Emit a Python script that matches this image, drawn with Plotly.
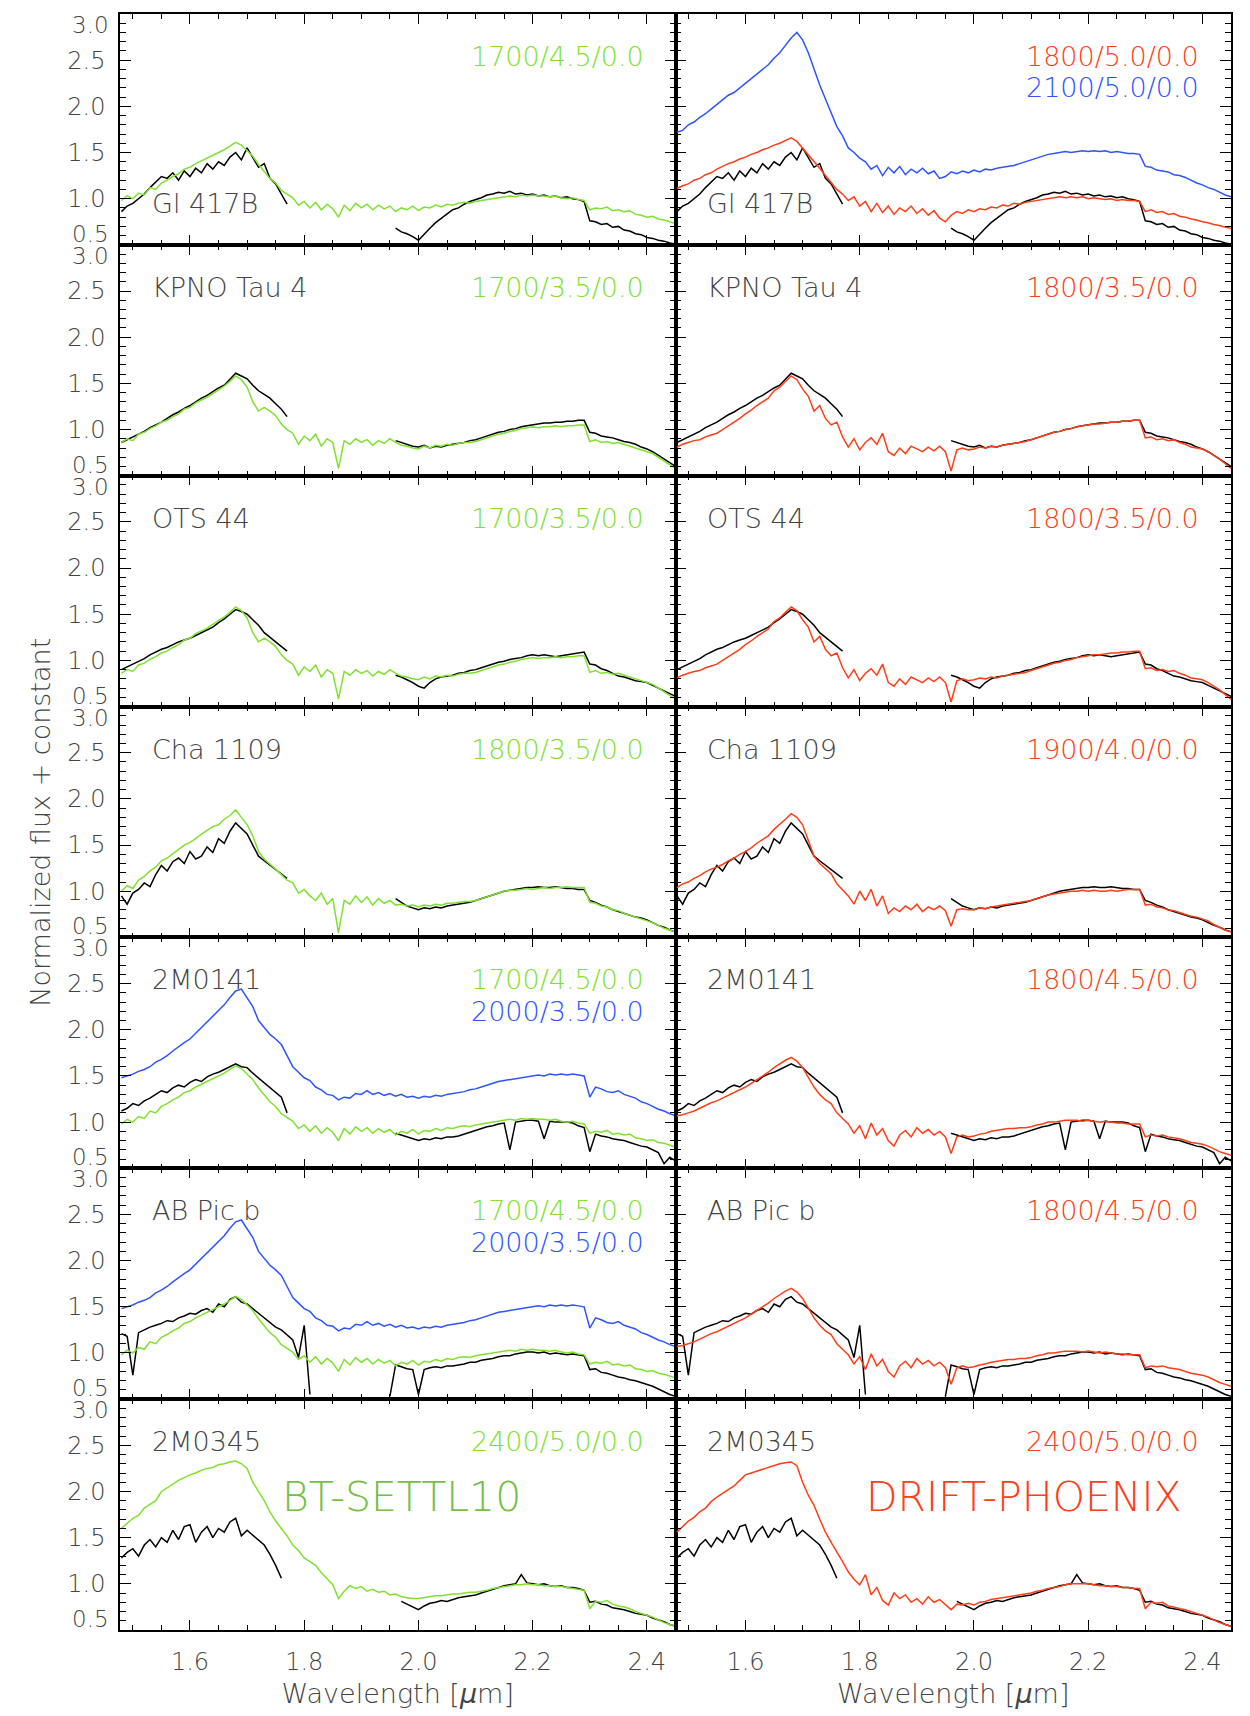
import plotly.graph_objects as go
from plotly.subplots import make_subplots

N = None
# wavelength sampling: 1.48 ... 2.45 micron, step 0.01
WL_START, WL_STEP = 1.48, 0.01

# ---------------- observed spectra (black) ----------------
B_GL417 = [0.86, 0.92, 0.95, 1.00, 1.05, 1.12, 1.18, 1.24, 1.22, 1.28,
           1.20, 1.30, 1.24, 1.33, 1.28, 1.38, 1.32, 1.40, 1.36, 1.45,
           1.50, 1.42, 1.55, 1.44, 1.34, 1.38, 1.22, 1.16, 1.05, 0.94,
           N, N, N, N, N, N, N, N, N, N,
           N, N, N, N, N, N, N, N, 0.68, 0.64,
           0.62, 0.59, 0.55, 0.62, 0.68, 0.74, 0.79, 0.84, 0.88, 0.90,
           0.94, 0.97, 0.99, 1.01, 1.04, 1.05, 1.07, 1.06, 1.08, 1.05,
           1.06, 1.04, 1.05, 1.03, 1.04, 1.02, 1.03, 1.01, 1.02, 1.00,
           0.99, 0.97, 0.76, 0.75, 0.72, 0.73, 0.69, 0.70, 0.66, 0.65,
           0.62, 0.61, 0.58, 0.57, 0.55, 0.54, 0.52, 0.51]
B_KPNO = [0.86, 0.89, 0.92, 0.95, 0.98, 1.02, 1.05, 1.08, 1.12, 1.16,
          1.19, 1.23, 1.26, 1.30, 1.34, 1.37, 1.41, 1.45, 1.48, 1.54,
          1.61, 1.58, 1.55, 1.48, 1.42, 1.38, 1.34, 1.28, 1.22, 1.14,
          N, N, N, N, N, N, N, N, N, N,
          N, N, N, N, N, N, N, N, 0.88, 0.86,
          0.84, 0.82, 0.81, 0.83, 0.80, 0.82, 0.81, 0.83, 0.84, 0.85,
          0.86, 0.88, 0.89, 0.91, 0.93, 0.95, 0.97, 0.98, 1.00, 1.01,
          1.03, 1.04, 1.05, 1.06, 1.07, 1.07, 1.08, 1.08, 1.09, 1.09,
          1.10, 1.10, 0.97, 0.96, 0.93, 0.92, 0.91, 0.89, 0.87, 0.86,
          0.84, 0.81, 0.79, 0.76, 0.72, 0.68, 0.64, 0.60]
B_OTS = [0.90, 0.93, 0.96, 0.99, 1.02, 1.06, 1.09, 1.12, 1.14, 1.17,
         1.20, 1.22, 1.24, 1.27, 1.30, 1.33, 1.36, 1.41, 1.45, 1.50,
         1.55, 1.53, 1.50, 1.44, 1.38, 1.30, 1.25, 1.20, 1.16, 1.10,
         N, N, N, N, N, N, N, N, N, N,
         N, N, N, N, N, N, N, N, 0.84, 0.82,
         0.79, 0.76, 0.72, 0.70, 0.76, 0.80, 0.82, 0.83, 0.84, 0.86,
         0.87, 0.89, 0.90, 0.92, 0.94, 0.96, 0.98, 0.99, 1.01, 1.02,
         1.03, 1.05, 1.06, 1.05, 1.06, 1.05, 1.04, 1.05, 1.06, 1.07,
         1.08, 1.09, 0.96, 0.95, 0.91, 0.89, 0.86, 0.83, 0.82, 0.80,
         0.78, 0.77, 0.76, 0.73, 0.70, 0.67, 0.64, 0.61]
B_CHA = [0.95, 0.86, 0.98, 1.02, 1.09, 1.05, 1.18, 1.28, 1.22, 1.32,
         1.36, 1.30, 1.43, 1.35, 1.38, 1.48, 1.42, 1.57, 1.52, 1.65,
         1.74, 1.68, 1.62, 1.50, 1.38, 1.33, 1.28, 1.24, 1.19, 1.14,
         N, N, N, N, N, N, N, N, N, N,
         N, N, N, N, N, N, N, N, 0.92, 0.88,
         0.84, 0.82, 0.80, 0.82, 0.81, 0.83, 0.82, 0.84, 0.85, 0.86,
         0.87, 0.88, 0.90, 0.92, 0.94, 0.96, 0.98, 1.00, 1.01, 1.02,
         1.03, 1.04, 1.04, 1.05, 1.04, 1.04, 1.05, 1.04, 1.03, 1.03,
         1.02, 1.02, 0.90, 0.88, 0.85, 0.83, 0.80, 0.78, 0.76, 0.74,
         0.72, 0.71, 0.69, 0.66, 0.63, 0.61, 0.58, 0.56]
B_2M0141 = [1.12, 1.15, 1.20, 1.18, 1.23, 1.26, 1.30, 1.34, 1.32, 1.37,
            1.40, 1.38, 1.43, 1.46, 1.44, 1.49, 1.52, 1.54, 1.57, 1.60,
            1.63, 1.60, 1.59, 1.53, 1.48, 1.43, 1.38, 1.32, 1.27, 1.10,
            N, N, N, N, N, N, N, N, N, N,
            N, N, N, N, N, N, N, N, 0.88, 0.86,
            0.84, 0.82, 0.80, 0.82, 0.81, 0.83, 0.82, 0.84, 0.84, 0.85,
            0.87, 0.89, 0.91, 0.93, 0.95, 0.96, 0.98, 0.99, 0.70, 1.00,
            1.01, 1.02, 1.02, 1.01, 0.82, 1.01, 1.00, 1.00, 1.00, 0.99,
            0.96, 0.94, 0.68, 0.87, 0.85, 0.84, 0.82, 0.81, 0.80, 0.78,
            0.76, 0.74, 0.73, 0.70, 0.67, 0.55, 0.62, 0.58]
B_ABPIC = [1.21, 1.18, 0.76, 1.22, 1.25, 1.28, 1.30, 1.32, 1.35, 1.34,
           1.38, 1.40, 1.43, 1.42, 1.46, 1.48, 1.44, 1.53, 1.50, 1.58,
           1.61, 1.55, 1.53, 1.48, 1.43, 1.38, 1.32, 1.28, 1.25, 1.20,
           1.14, 0.95, 1.30, 0.55, N, N, N, N, N, N,
           N, N, N, N, N, N, N, 0.53, 0.87, 0.85,
           0.83, 0.82, 0.55, 0.82, 0.84, 0.85, 0.84, 0.86, 0.86, 0.87,
           0.88, 0.90, 0.90, 0.92, 0.93, 0.94, 0.96, 0.97, 0.97, 0.99,
           1.00, 1.01, 1.01, 1.00, 1.01, 0.99, 1.00, 0.99, 0.98, 0.99,
           0.98, 0.97, 0.82, 0.83, 0.79, 0.78, 0.76, 0.74, 0.73, 0.71,
           0.70, 0.68, 0.66, 0.64, 0.61, 0.58, 0.55, 0.53]
B_2M0345 = [1.28, 1.34, 1.38, 1.30, 1.42, 1.48, 1.40, 1.50, 1.45, 1.58,
            1.48, 1.62, 1.64, 1.45, 1.56, 1.62, 1.50, 1.60, 1.56, 1.67,
            1.71, 1.52, 1.58, 1.53, 1.47, 1.42, 1.32, 1.20, 1.06, N,
            N, N, N, N, N, N, N, N, N, N,
            N, N, N, N, N, N, N, N, N, 0.81,
            0.78, 0.75, 0.72, 0.76, 0.79, 0.80, 0.82, 0.81, 0.83, 0.85,
            0.86, 0.87, 0.88, 0.90, 0.92, 0.94, 0.96, 0.98, 0.99, 1.00,
            1.10, 1.01, 1.00, 0.99, 1.00, 0.98, 0.97, 0.98, 0.96, 0.96,
            0.95, 0.93, 0.80, 0.81, 0.78, 0.77, 0.74, 0.73, 0.72, 0.70,
            0.68, 0.67, 0.66, 0.63, 0.61, 0.59, 0.56, 0.54]

# ---------------- BT-SETTL10 models (green) ----------------
G17_45 = [0.98, 1.03, 1.00, 1.06, 1.04, 1.12, 1.10, 1.17, 1.20, 1.24,
          1.27, 1.32, 1.34, 1.38, 1.41, 1.44, 1.47, 1.50, 1.53, 1.57,
          1.61, 1.58, 1.52, 1.46, 1.37, 1.30, 1.22, 1.17, 1.09, 1.05,
          1.01, 0.93, 0.97, 0.90, 0.96, 0.88, 0.94, 0.89, 0.80, 0.93,
          0.87, 0.95, 0.90, 0.94, 0.88, 0.93, 0.89, 0.92, 0.86, 0.90,
          0.88, 0.92, 0.87, 0.91, 0.90, 0.93, 0.91, 0.94, 0.93, 0.95,
          0.96, 0.95, 0.97, 0.98, 0.99, 1.00, 1.01, 1.02, 1.03, 1.02,
          1.04, 1.03, 1.04, 1.03, 1.03, 1.02, 1.03, 1.01, 1.00, 1.01,
          0.99, 0.98, 0.88, 0.90, 0.89, 0.91, 0.87, 0.88, 0.86, 0.87,
          0.83, 0.82, 0.80, 0.81, 0.78, 0.77, 0.75, 0.73]
G17_35 = [0.86, 0.90, 0.88, 0.95, 0.97, 1.01, 1.04, 1.08, 1.10, 1.14,
          1.17, 1.22, 1.24, 1.29, 1.32, 1.35, 1.39, 1.43, 1.47, 1.52,
          1.58, 1.54, 1.46, 1.30, 1.20, 1.24, 1.20, 1.15, 1.06, 1.00,
          0.96, 0.84, 0.93, 0.88, 0.95, 0.82, 0.90, 0.86, 0.58, 0.88,
          0.84, 0.90, 0.86, 0.89, 0.83, 0.88, 0.85, 0.90, 0.86, 0.83,
          0.82, 0.80, 0.79, 0.82, 0.80, 0.83, 0.82, 0.84, 0.83, 0.85,
          0.86, 0.86, 0.87, 0.89, 0.91, 0.93, 0.95, 0.96, 0.98, 0.99,
          1.01, 1.02, 1.03, 1.02, 1.03, 1.03, 1.04, 1.03, 1.04, 1.04,
          1.05, 1.05, 0.87, 0.89, 0.86, 0.87, 0.85, 0.86, 0.84, 0.82,
          0.80, 0.78, 0.76, 0.74, 0.70, 0.66, 0.62, 0.58]
G18_35 = [1.00, 1.06, 1.03, 1.12, 1.16, 1.22, 1.26, 1.33, 1.36, 1.41,
          1.45, 1.50, 1.53, 1.57, 1.62, 1.66, 1.70, 1.72, 1.78, 1.82,
          1.88, 1.80, 1.72, 1.60, 1.43, 1.35, 1.30, 1.24, 1.18, 1.12,
          1.09, 0.98, 1.02, 0.95, 0.90, 0.98, 0.86, 0.92, 0.55, 0.90,
          0.86, 0.95, 0.88, 0.94, 0.85, 0.92, 0.87, 0.90, 0.85, 0.86,
          0.84, 0.85, 0.83, 0.85, 0.84, 0.86, 0.85, 0.87, 0.87, 0.88,
          0.89, 0.89, 0.90, 0.92, 0.94, 0.96, 0.98, 1.00, 1.01, 1.01,
          1.02, 1.03, 1.02, 1.03, 1.04, 1.03, 1.04, 1.04, 1.05, 1.04,
          1.04, 1.04, 0.88, 0.87, 0.84, 0.83, 0.80, 0.79, 0.76, 0.74,
          0.72, 0.70, 0.68, 0.66, 0.63, 0.60, 0.58, 0.56]
G24_50 = [1.60, 1.66, 1.71, 1.74, 1.82, 1.86, 1.90, 2.00, 2.04, 2.08,
          2.12, 2.15, 2.18, 2.20, 2.23, 2.25, 2.26, 2.29, 2.30, 2.32,
          2.33, 2.30, 2.25, 2.10, 2.00, 1.90, 1.78, 1.68, 1.60, 1.52,
          1.42, 1.36, 1.28, 1.24, 1.20, 1.12, 1.06, 0.99, 0.84, 0.92,
          0.98, 0.95, 0.97, 0.92, 0.94, 0.91, 0.92, 0.88, 0.89, 0.86,
          0.85, 0.84, 0.84, 0.85, 0.86, 0.87, 0.87, 0.88, 0.89, 0.89,
          0.90, 0.91, 0.91, 0.92, 0.93, 0.95, 0.96, 0.97, 0.98, 0.99,
          0.99, 1.00, 0.99, 0.99, 0.98, 0.98, 0.97, 0.97, 0.96, 0.95,
          0.94, 0.93, 0.73, 0.81, 0.80, 0.82, 0.78, 0.76, 0.75, 0.73,
          0.70, 0.68, 0.66, 0.64, 0.61, 0.58, 0.56, 0.54]

# ---------------- DRIFT-PHOENIX models (red) ----------------
R18_50 = [1.11, 1.14, 1.16, 1.20, 1.22, 1.26, 1.28, 1.32, 1.35, 1.38,
          1.40, 1.43, 1.45, 1.48, 1.50, 1.53, 1.55, 1.58, 1.60, 1.63,
          1.66, 1.62, 1.55, 1.48, 1.40, 1.33, 1.25, 1.18, 1.10, 1.05,
          0.98, 1.02, 0.92, 0.97, 0.86, 0.95, 0.85, 0.92, 0.83, 0.90,
          0.86, 0.92, 0.84, 0.89, 0.82, 0.87, 0.79, 0.75, 0.82, 0.86,
          0.84, 0.88, 0.86, 0.89, 0.88, 0.91, 0.90, 0.93, 0.92, 0.95,
          0.94, 0.96, 0.97, 0.98, 0.99, 1.00, 1.01, 1.02, 1.01, 1.02,
          1.01, 1.02, 1.00, 1.01, 1.00, 0.99, 1.00, 0.98, 0.99, 0.98,
          0.98, 0.97, 0.86, 0.88, 0.85, 0.86, 0.83, 0.84, 0.81, 0.80,
          0.78, 0.77, 0.75, 0.74, 0.72, 0.71, 0.69, 0.68]
R18_35 = [0.81, 0.84, 0.86, 0.88, 0.89, 0.92, 0.94, 0.96, 1.00, 1.04,
          1.08, 1.12, 1.17, 1.21, 1.26, 1.30, 1.34, 1.42, 1.46, 1.52,
          1.58, 1.54, 1.44, 1.36, 1.20, 1.26, 1.12, 1.05, 1.08, 0.92,
          0.81, 0.90, 0.78, 0.86, 0.91, 0.84, 0.96, 0.76, 0.72, 0.80,
          0.74, 0.82, 0.79, 0.76, 0.81, 0.77, 0.82, 0.76, 0.55, 0.78,
          0.80, 0.78, 0.79, 0.81, 0.80, 0.82, 0.81, 0.83, 0.84, 0.85,
          0.86, 0.87, 0.89, 0.91, 0.93, 0.95, 0.97, 0.98, 1.00, 1.01,
          1.03, 1.04, 1.05, 1.06, 1.06, 1.07, 1.08, 1.08, 1.09, 1.09,
          1.10, 1.10, 0.91, 0.92, 0.89, 0.90, 0.88, 0.89, 0.86, 0.84,
          0.81, 0.80, 0.79, 0.76, 0.72, 0.68, 0.63, 0.58]
R19_40 = [1.04, 1.08, 1.10, 1.14, 1.17, 1.21, 1.24, 1.26, 1.29, 1.33,
          1.36, 1.40, 1.43, 1.47, 1.52, 1.56, 1.60, 1.67, 1.72, 1.78,
          1.84, 1.80, 1.72, 1.55, 1.38, 1.30, 1.25, 1.19, 1.08, 1.02,
          0.95, 0.86, 1.00, 0.90, 1.02, 0.84, 0.95, 0.76, 0.82, 0.78,
          0.84, 0.80, 0.86, 0.78, 0.83, 0.80, 0.84, 0.79, 0.62, 0.80,
          0.81, 0.80, 0.80, 0.82, 0.81, 0.83, 0.84, 0.85, 0.86, 0.87,
          0.88, 0.89, 0.90, 0.92, 0.94, 0.96, 0.97, 0.98, 0.99, 1.00,
          1.00, 1.01, 1.00, 1.01, 1.00, 1.00, 1.01, 1.00, 1.01, 1.02,
          1.02, 1.02, 0.85, 0.86, 0.83, 0.82, 0.80, 0.79, 0.77, 0.75,
          0.73, 0.72, 0.70, 0.68, 0.64, 0.61, 0.58, 0.56]
R18_45 = [1.07, 1.08, 1.10, 1.12, 1.15, 1.18, 1.21, 1.23, 1.26, 1.29,
          1.32, 1.35, 1.38, 1.42, 1.46, 1.50, 1.54, 1.59, 1.63, 1.67,
          1.70, 1.66, 1.59, 1.48, 1.38, 1.30, 1.24, 1.20, 1.10, 1.04,
          0.98, 0.88, 0.96, 0.82, 0.99, 0.86, 0.93, 0.80, 0.74, 0.86,
          0.91, 0.84, 0.94, 0.88, 0.92, 0.86, 0.90, 0.84, 0.66, 0.84,
          0.86, 0.84, 0.85, 0.87, 0.88, 0.90, 0.91, 0.92, 0.93, 0.93,
          0.94, 0.94, 0.95, 0.97, 0.98, 1.00, 1.00, 1.01, 1.02, 1.02,
          1.02, 1.01, 1.02, 1.01, 1.00, 1.01, 1.00, 0.99, 0.99, 0.98,
          0.98, 0.98, 0.84, 0.86, 0.85, 0.86, 0.84, 0.83, 0.82, 0.80,
          0.78, 0.77, 0.76, 0.74, 0.71, 0.68, 0.66, 0.64]
R24_50 = [1.56, 1.62, 1.68, 1.72, 1.78, 1.82, 1.89, 1.94, 1.98, 2.02,
          2.06, 2.12, 2.18, 2.20, 2.22, 2.24, 2.26, 2.28, 2.30, 2.31,
          2.32, 2.28, 2.10, 1.96, 1.85, 1.70, 1.56, 1.45, 1.35, 1.24,
          1.13, 1.05, 0.99, 1.10, 0.88, 0.96, 0.82, 0.77, 0.90, 0.84,
          0.88, 0.80, 0.84, 0.78, 0.86, 0.80, 0.83, 0.77, 0.72, 0.78,
          0.77, 0.79, 0.77, 0.80, 0.81, 0.83, 0.84, 0.85, 0.86, 0.87,
          0.88, 0.89, 0.90, 0.92, 0.93, 0.95, 0.96, 0.97, 0.99, 1.00,
          1.00, 1.00, 1.00, 0.99, 0.98, 0.98, 0.97, 0.97, 0.96, 0.96,
          0.95, 0.95, 0.73, 0.80, 0.79, 0.80, 0.76, 0.75, 0.73, 0.72,
          0.70, 0.68, 0.66, 0.64, 0.61, 0.58, 0.56, 0.54]

# ---------------- hotter comparison models (blue) ----------------
B21_50 = [1.72, 1.74, 1.80, 1.83, 1.88, 1.92, 1.97, 2.02, 2.06, 2.12,
          2.15, 2.20, 2.25, 2.30, 2.34, 2.40, 2.45, 2.52, 2.58, 2.66,
          2.74, 2.80, 2.72, 2.58, 2.40, 2.23, 2.08, 1.93, 1.78, 1.68,
          1.55, 1.50, 1.44, 1.40, 1.32, 1.36, 1.25, 1.34, 1.28, 1.35,
          1.26, 1.32, 1.28, 1.33, 1.27, 1.30, 1.22, 1.24, 1.29, 1.27,
          1.30, 1.28, 1.31, 1.29, 1.32, 1.31, 1.33, 1.34, 1.35, 1.36,
          1.38, 1.40, 1.42, 1.44, 1.46, 1.48, 1.49, 1.50, 1.51, 1.50,
          1.51, 1.52, 1.51, 1.52, 1.51, 1.52, 1.50, 1.51, 1.50, 1.49,
          1.49, 1.48, 1.35, 1.34, 1.31, 1.30, 1.29, 1.26, 1.25, 1.23,
          1.20, 1.17, 1.15, 1.12, 1.10, 1.07, 1.04, 1.02]
B20_35 = [1.48, 1.50, 1.52, 1.55, 1.57, 1.60, 1.65, 1.68, 1.72, 1.77,
          1.82, 1.86, 1.90, 1.96, 2.02, 2.08, 2.14, 2.20, 2.27, 2.35,
          2.42, 2.44, 2.35, 2.25, 2.10, 2.03, 1.95, 1.90, 1.84, 1.72,
          1.60, 1.54, 1.48, 1.45, 1.38, 1.35, 1.30, 1.29, 1.24, 1.27,
          1.26, 1.31, 1.30, 1.34, 1.30, 1.32, 1.29, 1.31, 1.28, 1.30,
          1.27, 1.28, 1.26, 1.28, 1.27, 1.29, 1.28, 1.30, 1.31, 1.32,
          1.33, 1.35, 1.36, 1.38, 1.40, 1.42, 1.44, 1.45, 1.46, 1.47,
          1.48, 1.49, 1.50, 1.51, 1.50, 1.52, 1.51, 1.52, 1.51, 1.52,
          1.51, 1.50, 1.27, 1.38, 1.36, 1.33, 1.32, 1.34, 1.30, 1.28,
          1.26, 1.22, 1.20, 1.17, 1.14, 1.12, 1.09, 1.07]

GREEN = "#7fe22e"
RED = "#ff3d17"
BLUE = "#2d55ff"
TXT = "#444444"
FONT = "DejaVu Sans"
WEIGHT = 200

OBJECTS = ["Gl 417B", "KPNO Tau 4", "OTS 44", "Cha 1109", "2M0141", "AB Pic b", "2M0345"]
OBS = [B_GL417, B_KPNO, B_OTS, B_CHA, B_2M0141, B_ABPIC, B_2M0345]
LEFT_MODELS = [
    [(G17_45, "1700/4.5/0.0", GREEN)],
    [(G17_35, "1700/3.5/0.0", GREEN)],
    [(G17_35, "1700/3.5/0.0", GREEN)],
    [(G18_35, "1800/3.5/0.0", GREEN)],
    [(G17_45, "1700/4.5/0.0", GREEN), (B20_35, "2000/3.5/0.0", BLUE)],
    [(G17_45, "1700/4.5/0.0", GREEN), (B20_35, "2000/3.5/0.0", BLUE)],
    [(G24_50, "2400/5.0/0.0", GREEN)],
]
RIGHT_MODELS = [
    [(R18_50, "1800/5.0/0.0", RED), (B21_50, "2100/5.0/0.0", BLUE)],
    [(R18_35, "1800/3.5/0.0", RED)],
    [(R18_35, "1800/3.5/0.0", RED)],
    [(R19_40, "1900/4.0/0.0", RED)],
    [(R18_45, "1800/4.5/0.0", RED)],
    [(R18_45, "1800/4.5/0.0", RED)],
    [(R24_50, "2400/5.0/0.0", RED)],
]
OBJ_LABEL_Y = [0.95, 2.54, 2.54, 2.54, 2.54, 2.54, 2.54]

XMAJ = [1.6, 1.8, 2.0, 2.2, 2.4]
XMIN = [round(1.50 + 0.05 * i, 2) for i in range(20)]
YMAJ = [0.5, 1.0, 1.5, 2.0, 2.5, 3.0]
YMIN = [round(0.5 + 0.1 * i, 1) for i in range(26)]


def wl(n):
    return [round(WL_START + WL_STEP * i, 3) for i in range(n)]


def fnt(size, color):
    return dict(family=FONT, size=size, color=color, weight=WEIGHT)


fig = make_subplots(rows=7, cols=2, horizontal_spacing=0, vertical_spacing=0)

for r in range(7):
    for c, models in ((1, LEFT_MODELS[r]), (2, RIGHT_MODELS[r])):
        fig.add_trace(go.Scatter(x=wl(len(OBS[r])), y=OBS[r], mode="lines",
                                 line=dict(color="black", width=1.5),
                                 connectgaps=False, showlegend=False),
                      row=r + 1, col=c)
        for spec, lab, col in models:
            fig.add_trace(go.Scatter(x=wl(len(spec)), y=spec, mode="lines",
                                     line=dict(color=col, width=1.5),
                                     showlegend=False),
                          row=r + 1, col=c)
        idx = r * 2 + c
        sfx = "" if idx == 1 else str(idx)
        # object name
        fig.add_annotation(x=1.53, y=OBJ_LABEL_Y[r], xref="x" + sfx, yref="y" + sfx,
                           text=OBJECTS[r], showarrow=False, xanchor="left",
                           yanchor="middle", font=fnt(27, TXT))
        # model labels
        for k, (spec, lab, col) in enumerate(models):
            fig.add_annotation(x=2.398, y=2.54 - 0.34 * k, xref="x" + sfx, yref="y" + sfx,
                               text=lab, showarrow=False, xanchor="right",
                               yanchor="middle", font=fnt(27, col))
        if c == 1:
            fig.add_annotation(x=0, y=3.0, xref="x" + sfx + " domain", yref="y" + sfx,
                               text="3.0", showarrow=False, xanchor="right", yanchor="middle",
                               xshift=-9, yshift=-11, font=fnt(23, TXT))
            fig.add_annotation(x=0, y=0.5, xref="x" + sfx + " domain", yref="y" + sfx,
                               text="0.5", showarrow=False, xanchor="right", yanchor="middle",
                               xshift=-9, yshift=11, font=fnt(23, TXT))

fig.update_xaxes(range=[1.4775, 2.45], showline=True, linecolor="black", linewidth=1.5,
                 mirror="ticks", ticks="inside", ticklen=10, tickwidth=1.3, tickcolor="black",
                 tickvals=XMAJ, ticktext=["%.1f" % v for v in XMAJ],
                 minor=dict(tickvals=XMIN, ticks="inside", ticklen=5, tickwidth=1.1,
                            tickcolor="black", showgrid=False),
                 showgrid=False, zeroline=False, showticklabels=False)
fig.update_yaxes(range=[0.5, 3.0], showline=True, linecolor="black", linewidth=1.5,
                 mirror="ticks", ticks="inside", ticklen=11, tickwidth=1.3, tickcolor="black",
                 tickvals=YMAJ, ticktext=["", "1.0", "1.5", "2.0", "2.5", ""],
                 minor=dict(tickvals=YMIN, ticks="inside", ticklen=6, tickwidth=1.1,
                            tickcolor="black", showgrid=False),
                 showgrid=False, zeroline=False, showticklabels=False)
for r in range(1, 8):
    fig.update_yaxes(showticklabels=True, ticklabelstandoff=8,
                     tickfont=fnt(24, TXT), row=r, col=1)
for c in (1, 2):
    fig.update_xaxes(showticklabels=True, ticklabelstandoff=9,
                     tickfont=fnt(24, TXT),
                     title=dict(text="Wavelength [<i>μ</i>m]", standoff=10,
                                font=fnt(27, TXT)),
                     row=7, col=c)

# model family labels
fig.add_annotation(x=1.97, y=1.94, xref="x13", yref="y13", text="BT-SETTL10",
                   showarrow=False, font=fnt(41, "#74bf45"))
fig.add_annotation(x=2.087, y=1.94, xref="x14", yref="y14", text="DRIFT-PHOENIX",
                   showarrow=False, font=fnt(41, RED))
# y title
fig.add_annotation(x=-0.088, y=0.5, xref="paper", yref="paper", text="Normalized flux + constant",
                   textangle=-90, showarrow=False, font=fnt(27, TXT))

fig.update_layout(width=1250, height=1716, margin=dict(l=120, r=19, t=12, b=84),
                  plot_bgcolor="white", paper_bgcolor="white")
fig.write_html("out.html")
